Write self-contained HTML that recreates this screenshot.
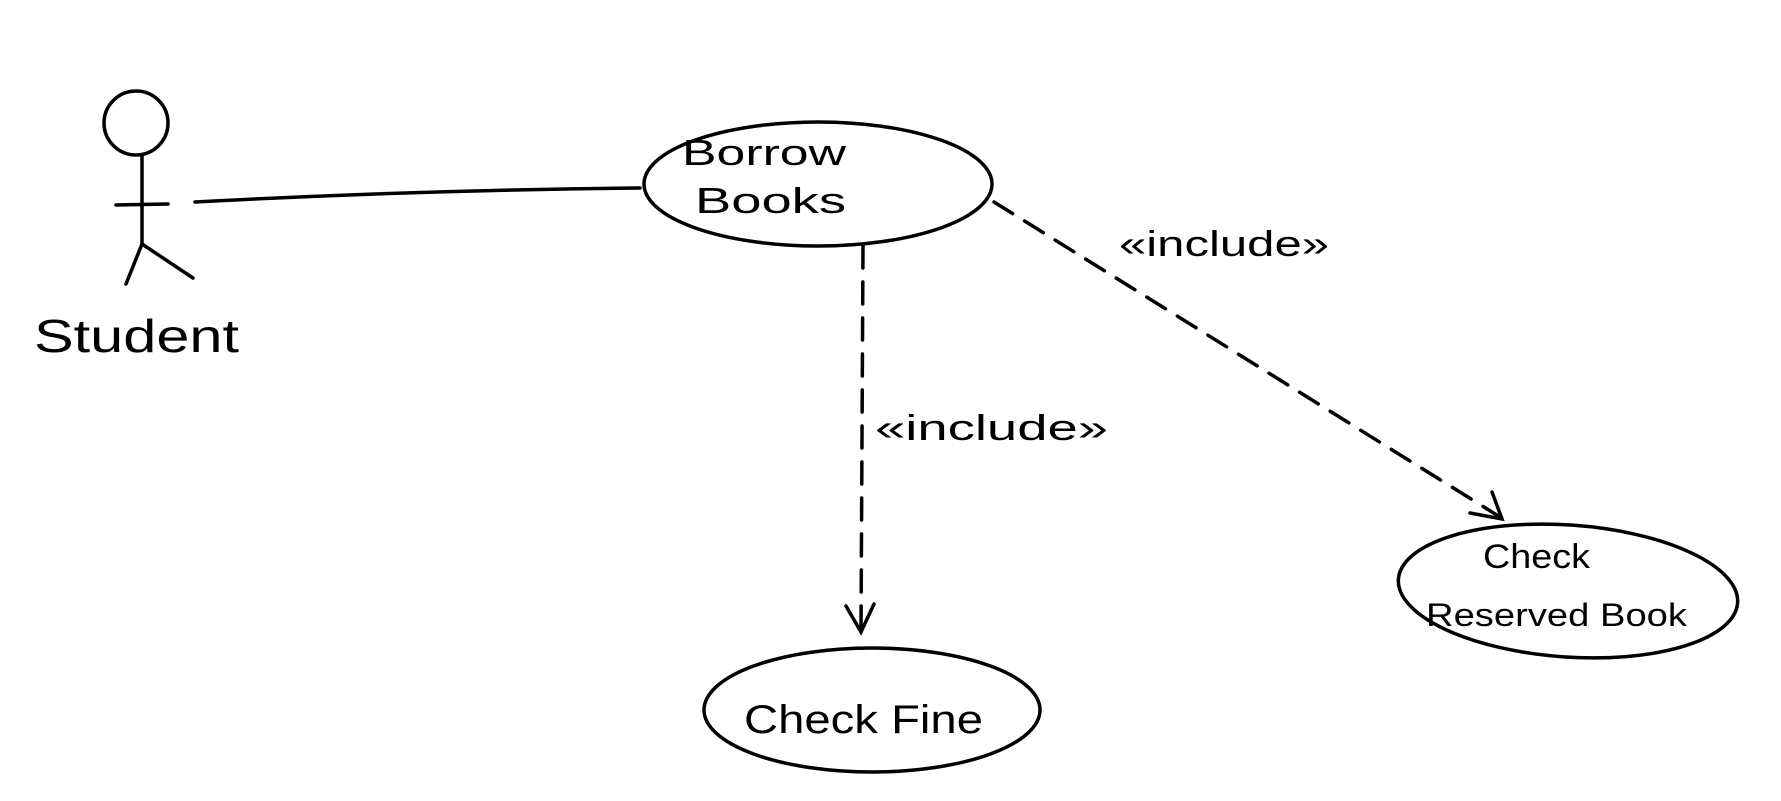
<!DOCTYPE html>
<html><head><meta charset="utf-8"><style>
html,body{margin:0;padding:0;background:#fff;}
svg{display:block;}
text{font-family:"Liberation Sans",sans-serif;fill:#000;}
</style></head><body>
<svg width="1781" height="801" viewBox="0 0 1781 801" xmlns="http://www.w3.org/2000/svg">
<rect width="1781" height="801" fill="#fff"/>
<g stroke="#000" stroke-width="3.5" fill="none" stroke-linecap="round">
  <circle cx="136" cy="123" r="32"/>
  <line x1="142" y1="155" x2="142" y2="244"/>
  <line x1="116" y1="205" x2="168" y2="204"/>
  <line x1="142" y1="244" x2="126" y2="284"/>
  <line x1="142" y1="244" x2="193" y2="278"/>
  <path d="M195 202 Q420 190 640 188"/>
  <ellipse cx="818" cy="184" rx="174" ry="62"/>
  <ellipse cx="872" cy="710" rx="168" ry="62"/>
  <ellipse cx="1568" cy="591" rx="170" ry="66" transform="rotate(4 1568 591)"/>
  <path d="M863 246 L861 630" stroke-dasharray="22 14"/>
  <path d="M846 606 L861 632 L874 604"/>
  <path d="M994 202 L1500 517" stroke-dasharray="22 14"/>
  <path d="M1470 513 L1502 519 L1492 492"/>
</g>
<text x="34" y="352" font-size="46" textLength="205" lengthAdjust="spacingAndGlyphs">Student</text>
<text x="682" y="165" font-size="36" textLength="164" lengthAdjust="spacingAndGlyphs">Borrow</text>
<text x="695" y="213" font-size="36" textLength="151" lengthAdjust="spacingAndGlyphs">Books</text>
<text x="744" y="733" font-size="40" textLength="239" lengthAdjust="spacingAndGlyphs">Check Fine</text>
<text x="1483" y="568" font-size="34" textLength="107" lengthAdjust="spacingAndGlyphs">Check</text>
<text x="1426" y="626" font-size="32" textLength="261" lengthAdjust="spacingAndGlyphs">Reserved Book</text>
<text x="875" y="440" font-size="36" textLength="233" lengthAdjust="spacingAndGlyphs">«include»</text>
<text x="1119" y="256" font-size="36" textLength="210" lengthAdjust="spacingAndGlyphs">«include»</text>
</svg>
</body></html>
